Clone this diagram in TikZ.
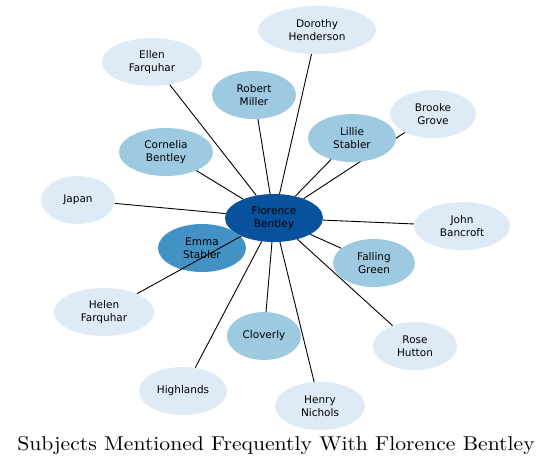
\documentclass[tikz,border=0pt]{standalone}
\usepackage{fontspec}
\newfontfamily\nodefont{DejaVu Sans}
\newfontfamily\titlefont{lmroman10-regular.otf}
\usetikzlibrary{shapes.geometric}
\definecolor{cdark}{HTML}{08519C}
\definecolor{cemma}{HTML}{4292C6}
\definecolor{cmid}{HTML}{9ECAE1}
\definecolor{clight}{HTML}{DEEBF7}
\tikzset{
  nd/.style={ellipse, inner sep=0pt, minimum height=48pt, align=center,
    font=\nodefont\fontsize{10.5}{12.5}\selectfont, text=black},
  lt/.style={nd, fill=clight},
  md/.style={nd, fill=cmid},
  conn/.style={draw=black, line width=0.9pt},
}
\begin{document}
\begin{tikzpicture}[x=1pt,y=-1pt]
\useasboundingbox (0,0) rectangle (553,467);
\node[nd, fill=cdark, minimum width=98pt] (fb) at (274,218) {Florence\\Bentley};
\node[lt, minimum width=118pt] (dh) at (317,30) {Dorothy\\Henderson};
\node[lt, minimum width=100pt] (ef) at (152,62) {Ellen\\Farquhar};
\node[md, minimum width=84pt] (rm) at (254,95) {Robert\\Miller};
\node[lt, minimum width=86pt] (bg) at (433,114) {Brooke\\Grove};
\node[lt, minimum width=74pt] (jp) at (78,200) {Japan};
\node[lt, minimum width=96pt] (jb) at (462,226) {John\\Bancroft};
\node[md, minimum width=94pt] (cb) at (166,152) {Cornelia\\Bentley};
\node[md, minimum width=82pt] (fg) at (374,263) {Falling\\Green};
\node[lt, minimum width=100pt] (hf) at (104,312) {Helen\\Farquhar};
\node[md, minimum width=74pt] (cl) at (264,336) {Cloverly};
\node[lt, minimum width=84pt] (rh) at (415,346) {Rose\\Hutton};
\node[lt, minimum width=88pt] (hi) at (183,391) {Highlands};
\node[lt, minimum width=90pt] (hn) at (320,406) {Henry\\Nichols};
\draw[conn] (fb) -- (dh);
\draw[conn] (fb) -- (ef);
\draw[conn] (fb) -- (rm);
\draw[conn] (fb) -- (bg);
\draw[conn] (fb) -- (jp);
\draw[conn] (fb) -- (jb);
\draw[conn] (fb) -- (cb);
\draw[conn] (fb) -- (fg);
\draw[conn] (fb) -- (cl);
\draw[conn] (fb) -- (rh);
\draw[conn] (fb) -- (hi);
\draw[conn] (fb) -- (hn);
\node[md, minimum width=88pt] (ls) at (352,138) {Lillie\\Stabler};
\draw[conn] (fb) -- (ls);
\node[nd, fill=cemma, minimum width=88pt] (es) at (202,248) {Emma\\Stabler};
\draw[conn] (fb) -- (hf);
\node[font=\titlefont\fontsize{20}{24}\selectfont] (title) at (276,445) {\scalebox{1.083}[1]{Subjects Mentioned Frequently With Florence Bentley}};
\end{tikzpicture}
\end{document}
